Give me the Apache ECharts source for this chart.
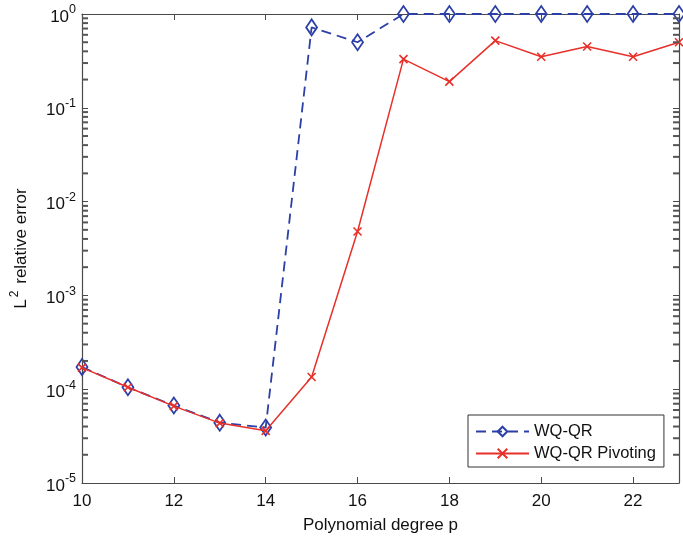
<!DOCTYPE html>
<html><head><meta charset="utf-8">
<script src="https://cdn.jsdelivr.net/npm/echarts@6/dist/echarts.min.js"></script>
<style>html,body{margin:0;padding:0;background:#fff}#c{width:683px;height:543px}</style>
</head><body><div id="c"></div>
<script>
var degrees = [10,11,12,13,14,15,16,17,18,19,20,21,22,23];
var wqqr = [1.72e-4,1.05e-4,6.7e-5,4.4e-5,3.9e-5,0.72,0.50,1.0,1.0,1.0,1.0,1.0,1.0,1.0];
var wqqrPivot = [1.70e-4,1.05e-4,6.6e-5,4.35e-5,3.6e-5,1.35e-4,4.8e-3,0.33,0.19,0.52,0.35,0.45,0.35,0.50];
var xTicks = [10,12,14,16,18,20,22];
var decades = [1e-5,1e-4,1e-3,1e-2,1e-1];
var mantissas = [2,3,4,5,6,7,8,9];

var minorLeft = [], minorRight = [];
decades.forEach(function(d){ mantissas.forEach(function(m){
  minorLeft.push([10, m*d]); minorRight.push([23, m*d]);
}); });

var axisColor = '#4a4a4a';
var font = 'Liberation Sans, Arial, Helvetica, sans-serif';
var blue = '#2b3fa6';
var red = '#e8302a';

var chart = echarts.init(document.getElementById('c'), null, {renderer:'canvas'});
chart.setOption({
  backgroundColor:'#fff',
  animation:false,
  grid:{left:82,right:4,top:14,bottom:60},
  xAxis:[{
    type:'value', min:10, max:23, interval:2,
    name:'Polynomial degree p', nameLocation:'middle', nameGap:34,
    nameTextStyle:{fontFamily:font,fontSize:17,color:'#111'},
    axisLine:{show:true,lineStyle:{color:axisColor,width:1.2}},
    axisTick:{inside:true,length:6,lineStyle:{color:axisColor}},
    axisLabel:{fontFamily:font,fontSize:17,color:'#111',margin:10,
      formatter:function(v){return xTicks.indexOf(v)>=0?String(v):'';}},
    splitLine:{show:false}
  },{
    type:'value', position:'top', min:10, max:23, interval:2,
    axisLine:{show:true,lineStyle:{color:axisColor,width:1.2}},
    axisTick:{inside:true,length:6,lineStyle:{color:axisColor}},
    axisLabel:{show:false}, splitLine:{show:false}
  }],
  yAxis:[{
    type:'log', logBase:10, min:1e-5, max:1,
    name:'{n|L}{sup|2}{n| relative error}', nameLocation:'middle', nameGap:49, nameRotate:90,
    nameTextStyle:{fontFamily:font,color:'#111',
      rich:{n:{fontFamily:font,fontSize:17,color:'#111'},
            sup:{fontFamily:font,fontSize:12,color:'#111',padding:[0,2,12,2]}}},
    axisLine:{show:true,lineStyle:{color:axisColor,width:1.2}},
    axisTick:{inside:true,length:6,lineStyle:{color:axisColor}},
    axisLabel:{fontFamily:font,color:'#111',margin:6,
      formatter:function(v){return '{b|10}{sup|'+Math.round(Math.log10(v))+'}';},
      rich:{b:{fontFamily:font,fontSize:17,color:'#111',padding:[6,0,0,0]},
            sup:{fontFamily:font,fontSize:12.5,color:'#111',padding:[0,0,8,0]}}},
    splitLine:{show:false}
  },{
    type:'log', logBase:10, min:1e-5, max:1, position:'right',
    axisLine:{show:true,lineStyle:{color:axisColor,width:1.2}},
    axisTick:{inside:true,length:6,lineStyle:{color:axisColor}},
    axisLabel:{show:false}, splitLine:{show:false}
  }],
  legend:{
    left:468, top:415, orient:'vertical',
    backgroundColor:'#fff', borderColor:'#333', borderWidth:1,
    padding:[8,8,5,7], itemGap:5, itemWidth:53, itemHeight:12,
    textStyle:{fontFamily:font,fontSize:16.5,color:'#111'},
    data:['WQ-QR','WQ-QR Pivoting']
  },
  series:[{
    name:'WQ-QR', type:'line', z:3,
    data:degrees.map(function(d,i){return [d,wqqr[i]];}),
    symbol:'diamond', symbolSize:[11,16],
    lineStyle:{color:blue,width:1.8,type:[10,6]},
    itemStyle:{color:'rgba(255,255,255,0)',borderColor:blue,borderWidth:1.8}
  },{
    name:'WQ-QR Pivoting', type:'line', z:4,
    data:degrees.map(function(d,i){return [d,wqqrPivot[i]];}),
    symbol:'path://M0,0L10,10M10,0L0,10', symbolSize:8,
    lineStyle:{color:red,width:1.5},
    itemStyle:{color:red,borderColor:red,borderWidth:1.6}
  },{
    name:'minorL', type:'line', z:5, clip:false, silent:true,
    data:minorLeft, showSymbol:true, showAllSymbol:true, symbol:'rect', symbolSize:[6,2], symbolOffset:[3,0],
    lineStyle:{width:0,opacity:0},
    itemStyle:{color:'#555555'}, emphasis:{disabled:true}
  },{
    name:'minorR', type:'line', z:5, clip:false, silent:true,
    data:minorRight, showSymbol:true, showAllSymbol:true, symbol:'rect', symbolSize:[6,2], symbolOffset:[-3,0],
    lineStyle:{width:0,opacity:0},
    itemStyle:{color:'#555555'}, emphasis:{disabled:true}
  }]
});
</script></body></html>
